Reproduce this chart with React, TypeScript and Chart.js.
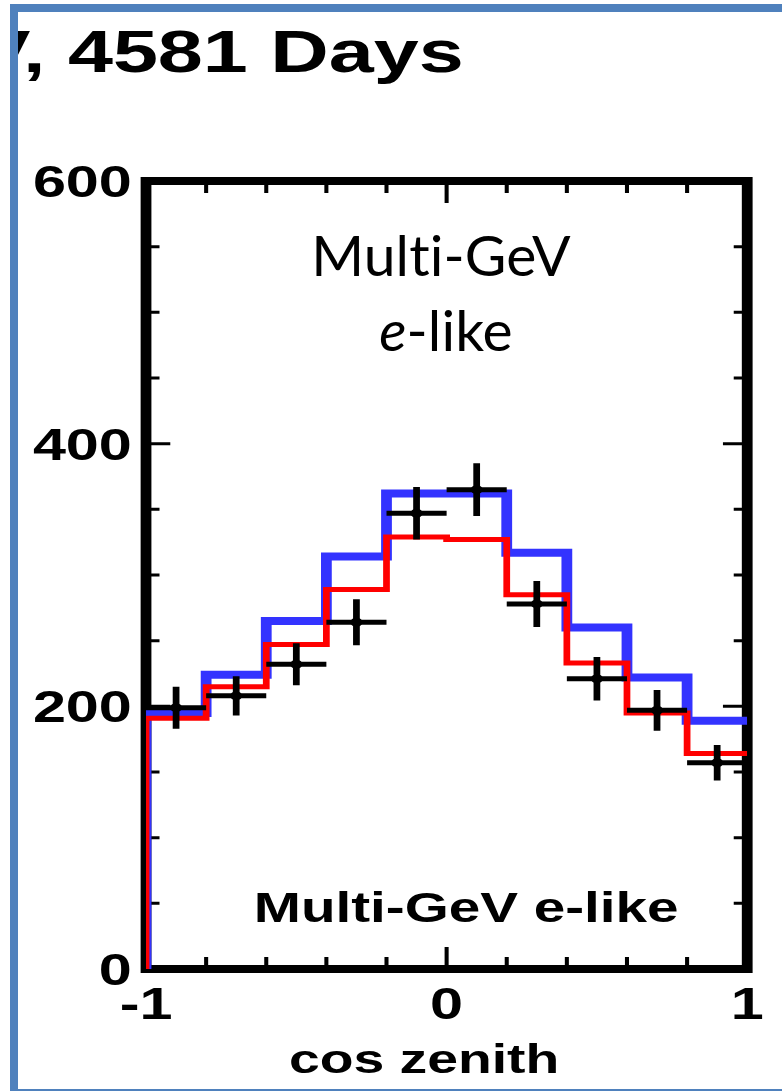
import { useEffect, useRef } from "react";
import { Chart, registerables } from "chart.js";

Chart.register(...registerables);

// cos(zenith) binning: 10 bins of width 0.2
const binEdges = [-1, -0.8, -0.6, -0.4, -0.2, 0, 0.2, 0.4, 0.6, 0.8, 1];
const binCenters = [-0.9, -0.7, -0.5, -0.3, -0.1, 0.1, 0.3, 0.5, 0.7, 0.9];

// Monte Carlo expectations (events per bin)
const noOscillationMC = [195, 224, 265, 314, 362, 362, 317, 260, 222, 189];
const oscillationMC = [191, 215, 247, 289, 329, 327, 285, 233, 195, 164];

// Observed events and their statistical errors
const observedCounts = [199, 208, 232, 264, 347, 365, 278, 221, 197, 157];
const observedErrors = [16, 15, 16, 17.5, 20, 20, 17.5, 16.5, 15.5, 13.5];

// Axis ticks
const yLabelTicks = [0, 200, 400, 600];
const yMinorTicks = [50, 100, 150, 200, 250, 300, 350, 400, 450, 500, 550];
const yMajorTicks = [200, 400];
const xLabelTicks = [-1, 0, 1];
const xMinorTicks = [-0.8, -0.6, -0.4, -0.2, 0, 0.2, 0.4, 0.6, 0.8];
const xMajorTicks = [0];

const W = 782;
const H = 1091;
// the plot is drawn horizontally stretched
const STRETCH = 782 / 580;

const BOLD = '"Liberation Sans", Arial, sans-serif';
const LABEL = 'Lato, "Open Sans", sans-serif';

function stepPoints(values: number[]) {
  const pts = [{ x: binEdges[0], y: 0 }];
  values.forEach((v, i) => pts.push({ x: binEdges[i], y: v }));
  pts.push({ x: binEdges[binEdges.length - 1], y: values[values.length - 1] });
  return pts;
}

const framePlugin = {
  id: "zenithFrame",
  beforeDraw(chart: any) {
    const ctx = chart.ctx;
    ctx.save();
    ctx.scale(STRETCH, 1);
  },
  beforeDatasetsDraw(chart: any) {
    const ctx = chart.ctx;
    const { left, right, top, bottom } = chart.chartArea;
    const xs = chart.scales.x;
    const ys = chart.scales.y;
    ctx.save();
    ctx.strokeStyle = "#000";
    ctx.lineWidth = 8;
    ctx.lineJoin = "miter";
    ctx.strokeRect(left, top, right - left, bottom - top);

    ctx.lineWidth = 3;
    ctx.beginPath();
    yMinorTicks.forEach((v) => {
      const y = ys.getPixelForValue(v);
      const len = yMajorTicks.includes(v) ? 18 : 10;
      ctx.moveTo(left, y);
      ctx.lineTo(left + len, y);
      ctx.moveTo(right, y);
      ctx.lineTo(right - len, y);
    });
    xMinorTicks.forEach((v) => {
      const x = xs.getPixelForValue(v);
      const len = xMajorTicks.includes(v) ? 22 : 12;
      ctx.moveTo(x, bottom);
      ctx.lineTo(x, bottom - len);
      ctx.moveTo(x, top);
      ctx.lineTo(x, top + len);
    });
    ctx.stroke();
    ctx.restore();
  },
  afterDatasetsDraw(chart: any) {
    const ctx = chart.ctx;
    const xs = chart.scales.x;
    const ys = chart.scales.y;
    ctx.save();
    ctx.strokeStyle = "#000";
    ctx.lineWidth = 5;
    ctx.lineCap = "butt";
    ctx.beginPath();
    binCenters.forEach((c, i) => {
      const y = ys.getPixelForValue(observedCounts[i]);
      const x = xs.getPixelForValue(c);
      ctx.moveTo(xs.getPixelForValue(c - 0.1), y);
      ctx.lineTo(xs.getPixelForValue(c + 0.1), y);
      ctx.moveTo(x, ys.getPixelForValue(observedCounts[i] + observedErrors[i]));
      ctx.lineTo(x, ys.getPixelForValue(observedCounts[i] - observedErrors[i]));
    });
    ctx.stroke();
    ctx.restore();
  },
  afterDraw(chart: any) {
    const ctx = chart.ctx;
    const { left, bottom } = chart.chartArea;
    const xs = chart.scales.x;
    const ys = chart.scales.y;
    ctx.save();
    ctx.fillStyle = "#000";

    // y tick labels
    ctx.font = `bold 44px ${BOLD}`;
    ctx.textAlign = "right";
    ctx.textBaseline = "alphabetic";
    yLabelTicks.forEach((v) => {
      ctx.fillText(String(v), left - 10.5, ys.getPixelForValue(v) + 16);
    });

    // x tick labels
    ctx.textAlign = "center";
    xLabelTicks.forEach((v) => {
      ctx.fillText(String(v), xs.getPixelForValue(v), bottom + 50);
    });

    // axis title
    ctx.font = `bold 41px ${BOLD}`;
    ctx.fillText("cos zenith", 314.5, 1073);

    // sample label inside the frame
    ctx.font = `bold 42px ${BOLD}`;
    ctx.fillText("Multi-GeV e-like", 345.7, 922);

    // heading, running past the left edge
    ctx.save();
    ctx.beginPath();
    ctx.rect(18 / STRETCH, 0, 700, 150);
    ctx.clip();
    ctx.font = `bold 60px ${BOLD}`;
    ctx.textAlign = "left";
    ctx.fillText("V, 4581 Days", -17.5, 72);
    ctx.restore();

    // upright annotation (not stretched)
    ctx.save();
    ctx.scale(1 / STRETCH, 1);
    try {
      ctx.textRendering = "optimizeSpeed";
      ctx.letterSpacing = "0.1px";
    } catch (e) {
      /* older canvas implementations */
    }
    ctx.textAlign = "center";
    ctx.font = `57px ${LABEL}`;
    ctx.fillText("Multi-GeV", 441, 276);
    ctx.textAlign = "left";
    ctx.font = `italic 57px ${LABEL}`;
    const wE = ctx.measureText("e").width;
    ctx.font = `57px ${LABEL}`;
    const wRest = ctx.measureText("-like").width;
    const start = 446 - (wE + wRest) / 2;
    ctx.font = `italic 57px ${LABEL}`;
    ctx.fillText("e", start, 351);
    ctx.font = `57px ${LABEL}`;
    ctx.fillText("-like", start + wE, 351);
    ctx.restore();

    ctx.restore();
    // undo the stretch set in beforeDraw
    ctx.restore();
  },
};

export default function App() {
  const canvasRef = useRef<HTMLCanvasElement | null>(null);

  useEffect(() => {
    const canvas = canvasRef.current;
    if (!canvas) return;
    const chart = new Chart(canvas, {
      type: "line",
      data: {
        datasets: [
          {
            type: "scatter",
            label: "Data",
            data: binCenters.map((x, i) => ({ x, y: observedCounts[i] })),
            pointRadius: 4.5,
            pointBackgroundColor: "#000",
            pointBorderWidth: 0,
            showLine: false,
          } as any,
          {
            label: "Oscillation MC",
            data: stepPoints(oscillationMC),
            borderColor: "#ff0000",
            borderWidth: 5,
            stepped: "before",
            pointRadius: 0,
            fill: false,
          },
          {
            label: "No oscillation MC",
            data: stepPoints(noOscillationMC),
            borderColor: "#3333ff",
            borderWidth: 8,
            stepped: "before",
            pointRadius: 0,
            fill: false,
          },
        ],
      },
      options: {
        animation: false,
        responsive: false,
        events: [],
        layout: {
          padding: { left: 108.3, right: W - 554.2, top: 181, bottom: H - 969 },
        },
        scales: {
          x: { type: "linear", min: -1, max: 1, display: false },
          y: { type: "linear", min: 0, max: 600, display: false },
        },
        plugins: {
          legend: { display: false },
          tooltip: { enabled: false },
          title: { display: false },
        },
      },
      plugins: [framePlugin],
    });
    return () => chart.destroy();
  }, []);

  return (
    <div
      style={{
        position: "absolute",
        left: 0,
        top: 0,
        width: W,
        height: H,
        overflow: "hidden",
        background: "#fff",
      }}
    >
      <canvas
        ref={canvasRef}
        width={W}
        height={H}
        style={{ position: "absolute", left: 0, top: 0, width: W, height: H }}
      />
      <div
        style={{
          position: "absolute",
          left: 10,
          top: 4,
          width: 800,
          height: 1093,
          border: "8px solid #4f81bd",
          boxSizing: "border-box",
          pointerEvents: "none",
        }}
      />
    </div>
  );
}
